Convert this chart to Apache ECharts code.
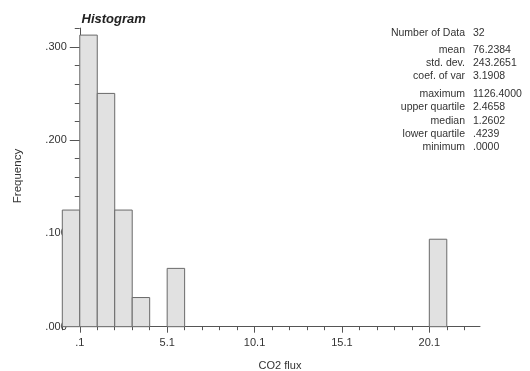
<!DOCTYPE html>
<html><head><meta charset="utf-8">
<script src="https://cdn.jsdelivr.net/npm/echarts@6/dist/echarts.min.js"></script>
<style>html,body{margin:0;padding:0;background:#fff}#c{width:530px;height:371px}</style>
</head><body><div id="c"></div>
<script>
// ---- data ----
const binStarts = [-0.9, 0.1, 1.1, 2.1, 3.1, 5.1, 20.1];
const frequencies = [0.125, 0.3125, 0.25, 0.125, 0.03125, 0.0625, 0.09375];
const binWidth = 1;
const xLabelValues = [0.1, 5.1, 10.1, 15.1, 20.1];
const xTickLabels = ['.1', '5.1', '10.1', '15.1', '20.1'];
const yLabelValues = [0, 0.1, 0.2, 0.3];
const yTickLabels = ['.000', '.100', '.200', '.300'];
const statLabels = ['Number of Data', 'mean', 'std. dev.', 'coef. of var', 'maximum', 'upper quartile', 'median', 'lower quartile', 'minimum'];
const statValues = ['32', '76.2384', '243.2651', '3.1908', '1126.4000', '2.4658', '1.2602', '.4239', '.0000'];

// ---- layout ----
const statY = [33, 50, 63, 76, 94.5, 107.5, 121, 134.5, 147.5];
const FONT = "'Liberation Sans', Arial, sans-serif";
const xMinorTicks = []; for (let k = -1; k <= 22; k++) xMinorTicks.push(+(0.1 + k).toFixed(1));
const yMinorTicks = []; for (let k = 0; k <= 16; k++) yMinorTicks.push(+(k * 0.02).toFixed(2));

const chart = echarts.init(document.getElementById('c'), null, {renderer: 'canvas'});
const axisCol = '#555';
const graphics = [];
statLabels.forEach((s, i) => {
  graphics.push({type: 'text', x: 465, y: statY[i], style: {text: s, font: '10.5px ' + FONT, fill: '#333', align: 'right', verticalAlign: 'middle'}});
  graphics.push({type: 'text', x: 473, y: statY[i], style: {text: statValues[i], font: '10.5px ' + FONT, fill: '#333', align: 'left', verticalAlign: 'middle'}});
});
graphics.push({type: 'text', x: 18, y: 176, rotation: Math.PI / 2, style: {text: 'Frequency', font: '11.5px ' + FONT, fill: '#333', align: 'center', verticalAlign: 'middle'}});
graphics.push({type: 'text', x: 280, y: 366, style: {text: 'CO2 flux', font: '11px ' + FONT, fill: '#333', align: 'center', verticalAlign: 'middle'}});

const X_MIN = -0.9, X_MAX = 23.0, Y_MAX = 0.32;
const yOffset = -17.48;

chart.setOption({
  animation: false,
  title: {text: 'Histogram', left: 81.5, top: 12.5, padding: 0, textStyle: {fontFamily: FONT, fontSize: 13, fontWeight: 'bold', fontStyle: 'italic', color: '#222'}},
  grid: {left: 62.3, right: 50, top: 28.1, bottom: 44.3, containLabel: false},
  xAxis: [
    {type: 'value', min: X_MIN, max: X_MAX, position: 'bottom', splitLine: {show: false},
     axisLine: {show: true, onZero: false, lineStyle: {color: axisCol, width: 1}},
     axisTick: {show: true, customValues: xMinorTicks, length: 3.5, lineStyle: {color: axisCol}},
     axisLabel: {show: false}},
    {type: 'value', min: X_MIN, max: X_MAX, position: 'bottom', splitLine: {show: false},
     axisLine: {show: false, onZero: false},
     axisTick: {show: true, customValues: xLabelValues, length: 6, lineStyle: {color: axisCol}},
     axisLabel: {show: true, customValues: xLabelValues, margin: 11, fontFamily: FONT, fontSize: 11, color: '#333',
       formatter: v => { const i = xLabelValues.findIndex(t => Math.abs(t - v) < 1e-6); return i >= 0 ? xTickLabels[i] : ''; }}}
  ],
  yAxis: [
    {type: 'value', min: 0, max: Y_MAX, position: 'left', offset: yOffset, splitLine: {show: false},
     axisLine: {show: true, onZero: false, lineStyle: {color: axisCol, width: 1}},
     axisTick: {show: true, customValues: yMinorTicks, length: 5, lineStyle: {color: axisCol}},
     axisLabel: {show: false}},
    {type: 'value', min: 0, max: Y_MAX, position: 'left', offset: yOffset, splitLine: {show: false},
     axisLine: {show: false, onZero: false},
     axisTick: {show: true, customValues: yLabelValues, length: 10, lineStyle: {color: axisCol}},
     axisLabel: {show: true, customValues: yLabelValues, margin: 13, fontFamily: FONT, fontSize: 11, color: '#333',
       formatter: v => { const i = yLabelValues.findIndex(t => Math.abs(t - v) < 1e-6); return i >= 0 ? yTickLabels[i] : ''; }}}
  ],
  graphic: graphics,
  series: [{
    type: 'custom', xAxisIndex: 0, yAxisIndex: 0, z: 5, clip: false,
    data: binStarts.map((s, i) => [s, frequencies[i]]),
    renderItem: (params, api) => {
      const s = api.value(0), f = api.value(1);
      const p0 = api.coord([s, f]);
      const p1 = api.coord([s + binWidth, 0]);
      return {type: 'rect', shape: {x: p0[0], y: p0[1], width: p1[0] - p0[0], height: p1[1] - p0[1]},
        style: {fill: '#e1e1e1', stroke: '#6a6a6a', lineWidth: 1}};
    }
  }]
});
</script></body></html>
